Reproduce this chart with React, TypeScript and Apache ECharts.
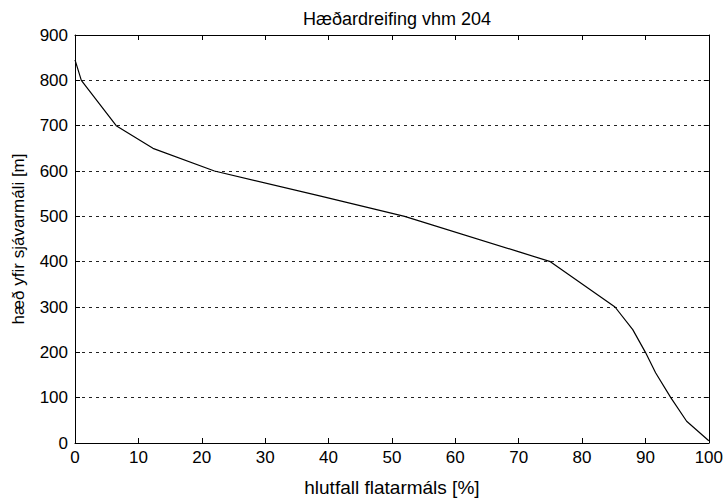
import React, { useEffect, useRef } from "react";
import * as echarts from "echarts";

const titleText = "Hæðardreifing vhm 204";
const xName = "hlutfall flatarmáls [%]";
const yName = "hæð yfir sjávarmáli [m]";
const areaPct = [0, 1, 6.5, 12.3, 22, 38.6, 52, 70.2, 75, 85.2, 88, 90, 91.6, 94, 96.5, 100];
const elevation = [845, 800, 700, 650, 600, 545, 500, 421, 400, 300, 250, 200, 155, 100, 48, 5];

export default function App() {
  const ref = useRef<HTMLDivElement>(null);
  useEffect(() => {
    if (!ref.current) return;
    const chart = echarts.init(ref.current, undefined, { renderer: "svg" });
    const font = "'Liberation Sans', Arial, Helvetica, sans-serif";
    const axisCommon = {
      axisLine: { show: true, onZero: false, lineStyle: { color: "#000", width: 1 } },
      axisTick: { show: true, inside: true, length: 5, lineStyle: { color: "#000" } },
    };
    chart.setOption({
      animation: false,
      backgroundColor: "#fff",
      title: {
        text: titleText,
        left: 392,
        textAlign: "center",
        top: 5,
        textStyle: { fontFamily: font, fontSize: 18, fontWeight: "normal", color: "#000" },
      },
      grid: { left: 75, right: 17, top: 35, bottom: 55, containLabel: false },
      xAxis: [
        {
          type: "value",
          min: 0,
          max: 100,
          interval: 10,
          position: "bottom",
          ...axisCommon,
          splitLine: { show: false },
          axisLabel: { fontFamily: font, fontSize: 17, color: "#000", margin: 6 },
          name: xName,
          nameLocation: "middle",
          nameGap: 35,
          nameTextStyle: { fontFamily: font, fontSize: 19, color: "#000" },
        },
        {
          type: "value",
          min: 0,
          max: 100,
          interval: 10,
          position: "top",
          ...axisCommon,
          splitLine: { show: false },
          axisLabel: { show: false },
        },
      ],
      yAxis: [
        {
          type: "value",
          min: 0,
          max: 900,
          interval: 100,
          position: "left",
          ...axisCommon,
          splitLine: {
            show: true,
            showMinLine: false,
            showMaxLine: false,
            lineStyle: { color: "#222", type: [3, 4], width: 1 },
          },
          axisLabel: { fontFamily: font, fontSize: 17, color: "#000", margin: 7 },
          name: yName,
          nameLocation: "middle",
          nameGap: 48,
          nameRotate: 90,
          nameTextStyle: { fontFamily: font, fontSize: 17, color: "#000" },
        },
        {
          type: "value",
          min: 0,
          max: 900,
          interval: 100,
          position: "right",
          ...axisCommon,
          splitLine: { show: false },
          axisLabel: { show: false },
        },
      ],
      series: [
        {
          type: "line",
          data: areaPct.map((x, i) => [x, elevation[i]]),
          showSymbol: false,
          symbol: "none",
          lineStyle: { color: "#000", width: 1.2 },
          xAxisIndex: 0,
          yAxisIndex: 0,
        },
      ],
    });
    return () => chart.dispose();
  }, []);
  return <div ref={ref} style={{ width: 726, height: 502, position: "fixed", left: 0, top: 0 }} />;
}
